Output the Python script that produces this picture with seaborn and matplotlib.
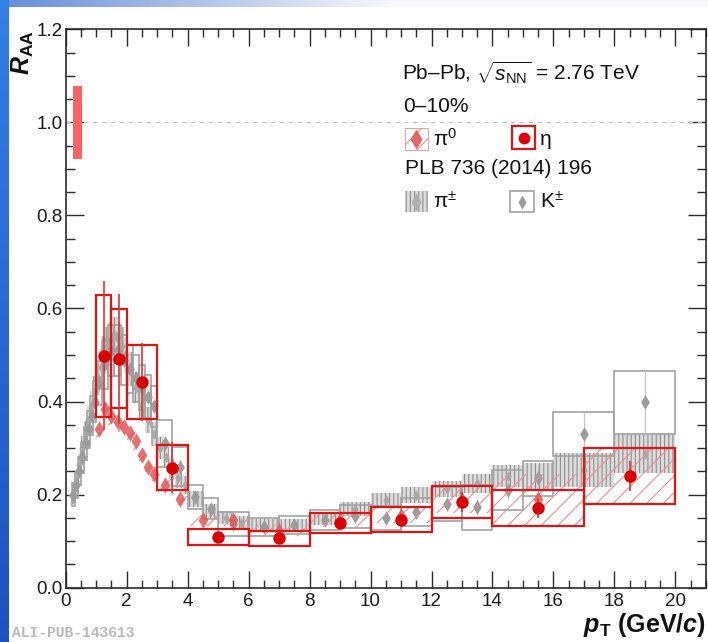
import numpy as np
import pandas as pd
import matplotlib
matplotlib.use("Agg")
import matplotlib.pyplot as plt
import seaborn as sns
from matplotlib.ticker import MultipleLocator, FormatStrFormatter
from matplotlib.patches import Rectangle

# ---------------- data ----------------
# eta (this measurement)
eta_pt   = [1.25, 1.75, 2.5, 3.5, 5.0, 7.0, 9.0, 11.0, 13.0, 15.5, 18.5]
eta_hw   = [0.25, 0.25, 0.5, 0.5, 1.0, 1.0, 1.0, 1.0, 1.0, 1.5, 1.5]
eta_raa  = [0.498, 0.492, 0.442, 0.258, 0.109, 0.106, 0.139, 0.146, 0.184, 0.171, 0.240]
eta_stat = [0.160, 0.140, 0.083, 0.055, 0.010, 0.010, 0.010, 0.013, 0.022, 0.022, 0.032]
eta_sys  = [0.131, 0.106, 0.079, 0.049, 0.017, 0.016, 0.021, 0.027, 0.035, 0.039, 0.061]

# pi0
pi0_pt  = [1.1, 1.3, 1.5, 1.7, 1.9, 2.1, 2.3, 2.5, 2.7, 2.9, 3.25, 3.75, 4.5, 5.5, 7.0, 9.0, 11.0, 13.0, 15.5, 18.5]
pi0_hw  = [0.1, 0.1, 0.1, 0.1, 0.1, 0.1, 0.1, 0.1, 0.1, 0.1, 0.25, 0.25, 0.5, 0.5, 1.0, 1.0, 1.0, 1.0, 1.5, 1.5]
pi0_raa = [0.340, 0.385, 0.370, 0.355, 0.345, 0.332, 0.315, 0.285, 0.260, 0.245, 0.220, 0.190, 0.145, 0.145, 0.122, 0.145, 0.155, 0.188, 0.190, 0.240]
pi0_sys = [0.020, 0.022, 0.022, 0.021, 0.020, 0.020, 0.019, 0.017, 0.016, 0.015, 0.014, 0.013, 0.012, 0.012, 0.012, 0.015, 0.016, 0.028, 0.055, 0.060]

# charged pions, PLB 736 (2014) 196
pic_pt  = [0.25, 0.35, 0.45, 0.55, 0.65, 0.75, 0.85, 0.95, 1.05, 1.15, 1.25, 1.35, 1.45, 1.55,
           1.65, 1.75, 1.85, 1.95, 2.1, 2.3, 2.5, 2.7, 2.9, 3.1, 3.3, 3.5, 3.7, 3.9, 4.25, 4.75,
           5.25, 5.75, 6.5, 7.5, 8.5, 9.5, 10.5, 11.5, 12.5, 13.5, 14.5, 15.5, 17.0, 19.0]
pic_hw  = [0.05, 0.05, 0.05, 0.05, 0.05, 0.05, 0.05, 0.05, 0.05, 0.05, 0.05, 0.05, 0.05, 0.05,
           0.05, 0.05, 0.05, 0.05, 0.1, 0.1, 0.1, 0.1, 0.1, 0.1, 0.1, 0.1, 0.1, 0.1, 0.25, 0.25,
           0.25, 0.25, 0.5, 0.5, 0.5, 0.5, 0.5, 0.5, 0.5, 0.5, 0.5, 0.5, 1.0, 1.0]
pic_raa = [0.200, 0.230, 0.265, 0.300, 0.330, 0.360, 0.390, 0.420, 0.450, 0.475, 0.500, 0.520, 0.530, 0.540,
           0.540, 0.530, 0.520, 0.500, 0.470, 0.430, 0.390, 0.360, 0.330, 0.300, 0.280, 0.255, 0.235, 0.220, 0.190, 0.165,
           0.150, 0.140, 0.135, 0.135, 0.148, 0.170, 0.188, 0.200, 0.212, 0.224, 0.240, 0.240, 0.253, 0.288]
pic_sys = [0.020, 0.022, 0.024, 0.026, 0.028, 0.030, 0.032, 0.034, 0.036, 0.038, 0.040, 0.040, 0.041, 0.041,
           0.041, 0.040, 0.040, 0.038, 0.036, 0.033, 0.030, 0.028, 0.026, 0.024, 0.022, 0.021, 0.020, 0.019, 0.017, 0.015,
           0.014, 0.013, 0.013, 0.013, 0.014, 0.015, 0.016, 0.017, 0.018, 0.020, 0.024, 0.027, 0.036, 0.042]

# charged kaons, PLB 736 (2014) 196
k_pt   = [0.25, 0.35, 0.45, 0.55, 0.65, 0.75, 0.85, 0.95, 1.1, 1.3, 1.5, 1.7, 1.9, 2.1, 2.3, 2.5, 2.7, 2.9,
          3.25, 3.75, 4.25, 4.75, 5.5, 6.5, 7.5, 8.5, 9.5, 10.5, 11.5, 12.5, 13.5, 14.5, 15.5, 17.0, 19.0]
k_hw   = [0.05, 0.05, 0.05, 0.05, 0.05, 0.05, 0.05, 0.05, 0.1, 0.1, 0.1, 0.1, 0.1, 0.1, 0.1, 0.1, 0.1, 0.1,
          0.25, 0.25, 0.25, 0.25, 0.5, 0.5, 0.5, 0.5, 0.5, 0.5, 0.5, 0.5, 0.5, 0.5, 0.5, 1.0, 1.0]
k_raa  = [0.200, 0.220, 0.250, 0.280, 0.310, 0.340, 0.370, 0.400, 0.440, 0.480, 0.510, 0.510, 0.490, 0.470, 0.450, 0.430, 0.410, 0.390,
          0.310, 0.260, 0.195, 0.170, 0.137, 0.130, 0.135, 0.145, 0.153, 0.150, 0.163, 0.180, 0.173, 0.210, 0.235, 0.330, 0.398]
k_stat = [0.005, 0.005, 0.005, 0.005, 0.005, 0.006, 0.006, 0.006, 0.006, 0.007, 0.007, 0.007, 0.008, 0.008, 0.008, 0.009, 0.009, 0.010,
          0.008, 0.008, 0.008, 0.008, 0.008, 0.008, 0.009, 0.010, 0.011, 0.012, 0.013, 0.015, 0.017, 0.022, 0.030, 0.050, 0.070]
k_sys  = [0.025, 0.027, 0.030, 0.033, 0.036, 0.039, 0.042, 0.045, 0.048, 0.052, 0.055, 0.055, 0.054, 0.052, 0.050, 0.048, 0.046, 0.044,
          0.050, 0.042, 0.025, 0.022, 0.026, 0.020, 0.020, 0.022, 0.024, 0.026, 0.030, 0.037, 0.048, 0.043, 0.037, 0.048, 0.067]

norm_unc = 0.078

# ---------------- style ----------------
sns.set_theme(style="ticks")
plt.rcParams['font.family'] = ['Liberation Sans', 'DejaVu Sans']
plt.rcParams['mathtext.fontset'] = 'custom'
plt.rcParams['mathtext.rm'] = 'Liberation Sans'
plt.rcParams['mathtext.it'] = 'Liberation Sans:italic'
plt.rcParams['mathtext.bf'] = 'Liberation Sans:bold'
plt.rcParams['mathtext.bfit'] = 'Liberation Sans:italic:bold'
plt.rcParams['mathtext.sf'] = 'Liberation Sans'
plt.rcParams['hatch.linewidth'] = 0.8

fig = plt.figure(figsize=(7.08, 6.42), dpi=100)

# background (slide screenshot frame)
H, W = 642, 708
img = np.ones((H, W, 3))
lv = np.linspace(0, 1, H)[:, None]
left_col = np.stack([0.20 - 0.08 * lv, 0.50 - 0.18 * lv, 0.90 - 0.15 * lv], axis=-1)
img[:, :9, :] = np.repeat(left_col, 9, axis=1)
hv = np.clip(np.linspace(0, 1, W) / 0.55, 0, 1)[None, :]
top_row = np.stack([0.40 + 0.57 * hv, 0.55 + 0.42 * hv, 0.85 + 0.13 * hv], axis=-1)
img[:7, 9:, :] = np.repeat(top_row, 7, axis=0)[:, 9:, :]
bg = fig.add_axes([0, 0, 1, 1])
bg.imshow(img, aspect='auto', extent=(0, 1, 0, 1), interpolation='bilinear')
bg.axis('off')
bg.set_zorder(-10)

ax = fig.add_axes([0.0928, 0.0846, 0.9042, 0.8698])
ax.set_zorder(1)
ax.set_facecolor('white')

RED = '#d80000'

def arr(v):
    return np.asarray(v, dtype=float)

# charged pion systematic boxes (vertical hatch)
ax.bar(arr(pic_pt), 2 * arr(pic_sys), bottom=arr(pic_raa) - arr(pic_sys), width=2 * arr(pic_hw),
       facecolor='#dcdcdc', edgecolor='#8e8e8e', hatch='||||', linewidth=0, zorder=2)
# kaon systematic boxes (open)
ax.bar(arr(k_pt), 2 * arr(k_sys), bottom=arr(k_raa) - arr(k_sys), width=2 * arr(k_hw),
       facecolor='none', edgecolor='#a2a2a2', linewidth=1.2, zorder=3)
ax.errorbar(k_pt, k_raa, yerr=k_stat, fmt='none', ecolor='#c4c4c4', elinewidth=0.9, zorder=3)
df_pic = pd.DataFrame({'pt': pic_pt, 'raa': pic_raa})
sns.scatterplot(data=df_pic, x='pt', y='raa', ax=ax, marker='d', s=30, color='#a8a8a8',
                linewidth=0, zorder=3, legend=False)
df_k = pd.DataFrame({'pt': k_pt, 'raa': k_raa})
sns.scatterplot(data=df_k, x='pt', y='raa', ax=ax, marker='d', s=55, color='#9c9c9c',
                linewidth=0, zorder=4, legend=False)

# pi0 systematic boxes (hatched)
ax.bar(arr(pi0_pt), 2 * arr(pi0_sys), bottom=arr(pi0_raa) - arr(pi0_sys), width=2 * arr(pi0_hw),
       facecolor='none', edgecolor='#f08c8c', hatch='//', linewidth=0, zorder=4)
df_pi0 = pd.DataFrame({'pt': pi0_pt, 'raa': pi0_raa})
sns.scatterplot(data=df_pi0, x='pt', y='raa', ax=ax, marker='d', s=70, color='#e05858',
                alpha=0.85, linewidth=0, zorder=5, legend=False)

# eta
ax.bar(arr(eta_pt), 2 * arr(eta_sys), bottom=arr(eta_raa) - arr(eta_sys), width=2 * arr(eta_hw),
       facecolor='none', edgecolor='#dd1515', linewidth=1.6, zorder=6)
ax.errorbar(eta_pt, eta_raa, yerr=eta_stat, fmt='none', ecolor='#e03030', elinewidth=1.2, zorder=6)
df_eta = pd.DataFrame({'pt': eta_pt, 'raa': eta_raa})
sns.scatterplot(data=df_eta, x='pt', y='raa', ax=ax, marker='o', s=80, color=RED,
                linewidth=0, zorder=7, legend=False)

# normalisation uncertainty and unity line
ax.bar([0.39], [2 * norm_unc], bottom=1.0 - norm_unc, width=0.28, color='#ff6262', linewidth=0, zorder=2)
ax.axhline(1.0, color='#bdbdbd', lw=0.8, ls=(0, (4, 4)), zorder=1)

# axes
ax.set_xlim(0, 21)
ax.set_ylim(0, 1.2)
ax.xaxis.set_major_locator(MultipleLocator(2))
ax.xaxis.set_minor_locator(MultipleLocator(0.5))
ax.yaxis.set_major_locator(MultipleLocator(0.2))
ax.yaxis.set_minor_locator(MultipleLocator(0.05))
ax.yaxis.set_major_formatter(FormatStrFormatter('%.1f'))
ax.xaxis.set_major_formatter(FormatStrFormatter('%d'))
ax.tick_params(which='both', direction='in', top=True, right=True, color='#2a2a2a', width=1.0,
               labelsize=13.5, labelcolor='#1a1a1a')
ax.tick_params(axis='x', which='major', length=12, pad=3.5)
ax.tick_params(axis='x', which='minor', length=6)
ax.tick_params(axis='y', which='major', length=13, pad=2)
ax.tick_params(axis='y', which='minor', length=6.5)
for sp in ax.spines.values():
    sp.set_color('#2a2a2a')
    sp.set_linewidth(1.2)
ax.set_xlabel('')
ax.set_ylabel('')

fig.text(23 / 708, 1 - 30 / 642, r'$\mathbfit{R}_{\mathbf{AA}}$', rotation=90, ha='center', va='top',
         fontsize=18, color='#111111')
fig.text(706 / 708, 1 - 632 / 642, r'$\mathbfit{p}_{\mathbf{T}}\ \mathbf{(GeV/}\mathbfit{c}\mathbf{)}$',
         ha='right', va='baseline', fontsize=18, color='#111111')
fig.text(12 / 708, 1 - 633 / 642, 'ALI-PUB-143613', va='center', ha='left', family='Liberation Mono',
         fontsize=10.5, color='#b8b8b8', fontweight='bold')

# legend / labels (axes fraction)
T = ax.transAxes
ax.text(0.5248, 0.9217, r'Pb–Pb, $\sqrt{s_{\mathrm{NN}}}$ = 2.76 TeV', transform=T, va='center', ha='left',
        fontsize=15, color='#111111')
ax.text(0.5273, 0.8614, '0–10%', transform=T, va='center', ha='left', fontsize=15, color='#111111')
ax.text(0.5300, 0.7498, 'PLB 736 (2014) 196', transform=T, va='center', ha='left', fontsize=15, color='#111111')

bw, bh = 0.0359, 0.0390
# pi0 entry
ax.add_patch(Rectangle((0.530, 0.7840), bw, bh, transform=T, facecolor='none', edgecolor='#f08c8c',
                       hatch='//', linewidth=0.6, zorder=8))
ax.plot([0.530 + bw / 2], [0.7840 + bh / 2], transform=T, marker='d', ms=10, color='#e05858',
        mec='none', zorder=9, alpha=0.9)
ax.text(0.5737, 0.8035, r'π$^{0}$', transform=T, va='center', ha='left', fontsize=15, color='#111111')
# eta entry
ax.add_patch(Rectangle((0.697, 0.7850), 0.0366, 0.0410, transform=T, facecolor='none', edgecolor='#dd1515',
                       linewidth=1.6, zorder=8))
ax.plot([0.697 + 0.0183], [0.7850 + 0.0205], transform=T, marker='o', ms=8.5, color=RED, mec='none', zorder=9)
ax.text(0.7407, 0.8035, 'η', transform=T, va='center', ha='left', fontsize=15, color='#111111')
# charged pion entry
ax.add_patch(Rectangle((0.530, 0.6720), bw, bh, transform=T, facecolor='#dcdcdc', edgecolor='#8e8e8e',
                       hatch='||||', linewidth=0, zorder=8))
ax.plot([0.530 + bw / 2], [0.6720 + bh / 2], transform=T, marker='d', ms=9, color='#b0b0b0',
        mec='none', zorder=9)
ax.text(0.5740, 0.6913, r'π$^{\pm}$', transform=T, va='center', ha='left', fontsize=15, color='#111111')
# kaon entry
ax.add_patch(Rectangle((0.694, 0.6720), 0.0375, bh, transform=T, facecolor='none', edgecolor='#a2a2a2',
                       linewidth=1.2, zorder=8))
ax.plot([0.694 + 0.01875], [0.6720 + bh / 2], transform=T, marker='d', ms=7, color='#9c9c9c',
        mec='none', zorder=9)
ax.text(0.7407, 0.6913, r'K$^{\pm}$', transform=T, va='center', ha='left', fontsize=15, color='#111111')

fig.savefig('out.png', dpi=100)
